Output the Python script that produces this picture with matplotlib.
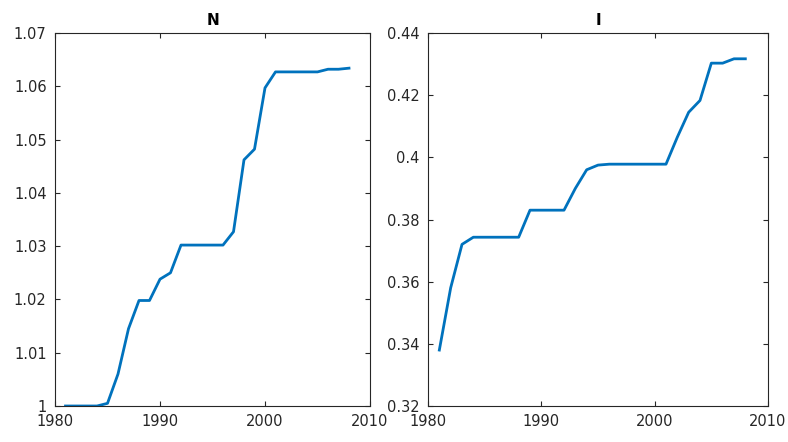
import matplotlib.pyplot as plt

years = list(range(1981, 2009))
n_vals = [1.0, 1.0, 1.0, 1.0, 1.0005, 1.006, 1.0145, 1.0198, 1.0198, 1.0238,
          1.025, 1.0302, 1.0302, 1.0302, 1.0302, 1.0302, 1.0327, 1.0462, 1.0482, 1.0597,
          1.0627, 1.0627, 1.0627, 1.0627, 1.0627, 1.0632, 1.0632, 1.0634]
i_vals = [0.338, 0.358, 0.372, 0.3743, 0.3743, 0.3743, 0.3743, 0.3743, 0.383, 0.383,
          0.383, 0.383, 0.390, 0.396, 0.3975, 0.3978, 0.3978, 0.3978, 0.3978, 0.3978,
          0.3978, 0.4065, 0.4145, 0.4183, 0.4303, 0.4303, 0.4317, 0.4317]

fig = plt.figure(figsize=(7.88, 4.42), dpi=100)
ax1 = fig.add_axes([55/788, 36/442, 315/788, 373/442])
ax2 = fig.add_axes([428/788, 36/442, 340/788, 373/442])

for ax, y, title, ylim, yt, ylab in [
    (ax1, n_vals, "N", (1, 1.07), [1 + 0.01*k for k in range(8)],
     ["1", "1.01", "1.02", "1.03", "1.04", "1.05", "1.06", "1.07"]),
    (ax2, i_vals, "I", (0.32, 0.44), [0.32 + 0.02*k for k in range(7)],
     ["0.32", "0.34", "0.36", "0.38", "0.4", "0.42", "0.44"]),
]:
    ax.plot(years, y, color="#0072BD", lw=2)
    ax.set_xlim(1980, 2010)
    ax.set_ylim(*ylim)
    ax.set_xticks([1980, 1990, 2000, 2010])
    ax.set_yticks(yt)
    ax.set_yticklabels(ylab)
    ax.set_title(title, fontweight="bold", fontsize=11)
    ax.tick_params(direction="in", labelsize=10.5, colors="#262626", top=True, right=True, pad=6)
    for s in ax.spines.values():
        s.set_color("#262626")

fig.savefig("out.png", dpi=100)
